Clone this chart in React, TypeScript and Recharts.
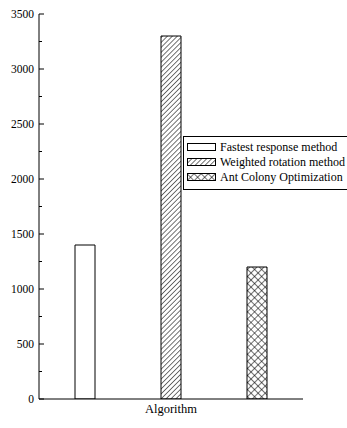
import React from 'react';
import { BarChart, Bar, XAxis, YAxis } from 'recharts';

const categories = ['Algorithm'];
const seriesNames = ['Fastest response method', 'Weighted rotation method', 'Ant Colony Optimization'];
const seriesKeys = ['fastest', 'weighted', 'ant'];
const fastestValues = [1400];
const weightedValues = [3300];
const antValues = [1200];
const yTicks = [0, 250, 500, 750, 1000, 1250, 1500, 1750, 2000, 2250, 2500, 2750, 3000, 3250, 3500];

const data = categories.map((c, i) => ({
  name: c,
  fastest: fastestValues[i],
  weighted: weightedValues[i],
  ant: antValues[i],
}));

const fills = ['#ffffff', 'url(#diagPat)', 'url(#crossPat)'];
const FONT = '"Liberation Serif", "Times New Roman", serif';

const YTick = (props: any) => {
  const { x, y, payload } = props;
  const v = payload.value;
  const major = v % 500 === 0;
  return (
    <g>
      <line x1={x} x2={x + (major ? 5 : 3)} y1={y} y2={y} stroke="#000" strokeWidth={1} />
      {major && (
        <text x={x - 5} y={y} dy={4} textAnchor="end" fontFamily={FONT} fontSize={11.5} fill="#000">
          {v}
        </text>
      )}
    </g>
  );
};

const XTick = (props: any) => {
  const { x, y, payload } = props;
  return (
    <text x={x} y={y} dy={14} textAnchor="middle" fontFamily={FONT} fontSize={12.5} fill="#000">
      {payload.value}
    </text>
  );
};

const LegendBox = () => (
  <div
    style={{
      position: 'absolute',
      left: 183,
      top: 136,
      border: '1px solid #000',
      background: '#fff',
      padding: '3px 4px 4px 3px',
      width: 175,
      fontFamily: FONT,
      fontSize: 12,
      lineHeight: '15px',
      color: '#000',
    }}
  >
    {seriesNames.map((n, i) => (
      <div key={n} style={{ display: 'flex', alignItems: 'center', whiteSpace: 'nowrap' }}>
        <svg width={30} height={9} style={{ marginRight: 3 }}>
          <rect x={0.5} y={0.5} width={28} height={7} fill={fills[i]} stroke="#000" strokeWidth={1} />
        </svg>
        <span>{n}</span>
      </div>
    ))}
  </div>
);

export default function App() {
  return (
    <div style={{ position: 'absolute', left: 0, top: 0, width: 347, height: 428, overflow: 'hidden', background: '#fff' }}>
      <svg width={0} height={0} style={{ position: 'absolute' }}>
        <defs>
          <pattern id="diagPat" patternUnits="userSpaceOnUse" width={3.5} height={3.5} patternTransform="rotate(45)">
            <rect width={3.5} height={3.5} fill="#fff" />
            <line x1={0} y1={0} x2={0} y2={3.5} stroke="#000" strokeWidth={1.1} />
          </pattern>
          <pattern id="crossPat" patternUnits="userSpaceOnUse" width={5} height={5} patternTransform="rotate(45)">
            <rect width={5} height={5} fill="#fff" />
            <line x1={0} y1={0} x2={0} y2={5} stroke="#000" strokeWidth={1.1} />
            <line x1={0} y1={0} x2={5} y2={0} stroke="#000" strokeWidth={1.1} />
          </pattern>
        </defs>
      </svg>
      <BarChart
        width={347}
        height={428}
        data={data}
        margin={{ top: 14, right: 44, left: 0, bottom: 0 }}
        barSize={20}
        barGap={66}
        barCategoryGap={36}
      >
        <XAxis
          dataKey="name"
          height={29}
          axisLine={{ stroke: '#000', strokeWidth: 1 }}
          tickLine={false}
          tick={<XTick />}
          tickSize={0}
          tickMargin={0}
        />
        <YAxis
          width={39}
          domain={[0, 3500]}
          ticks={yTicks}
          interval={0}
          axisLine={{ stroke: '#000', strokeWidth: 1 }}
          tickLine={false}
          tickSize={0}
          tickMargin={0}
          tick={<YTick />}
          allowDataOverflow
        />
        {seriesKeys.map((k, i) => (
          <Bar key={k} dataKey={k} name={seriesNames[i]} fill={fills[i]} stroke="#000" strokeWidth={1} isAnimationActive={false} />
        ))}
      </BarChart>
      <LegendBox />
    </div>
  );
}
